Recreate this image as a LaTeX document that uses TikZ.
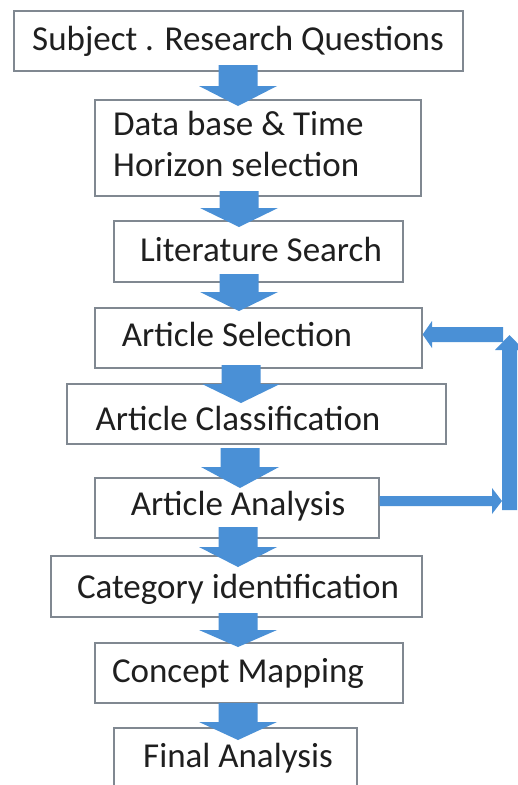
\documentclass[tikz,border=0pt]{standalone}
\usepackage{fontspec}
\setmainfont{Carlito}
\definecolor{arrblue}{RGB}{74,144,214}
\definecolor{boxline}{RGB}{128,136,145}
\newcommand\blkdown[4]{% centre x, shaft top, head base, tip
  \fill[arrblue] (#1-19.5,#2) -- (#1+19.5,#2) -- (#1+19.5,#3) -- (#1+39,#3)
    -- (#1,#4) -- (#1-39,#3) -- (#1-19.5,#3) -- cycle;}
\begin{document}
\begin{tikzpicture}[x=1pt,y=-1pt,
  box/.style={draw=boxline,line width=1.2pt,fill=white,inner sep=0pt},
  lbl/.style={font=\fontsize{35}{41}\selectfont,anchor=base,inner sep=0pt,text=black!88}]
\useasboundingbox (0,0) rectangle (518,785);
\clip (0,0) rectangle (518,785);
\fill[white] (0,0) rectangle (518,785);
% boxes
\node[box,minimum width=449pt,minimum height=60pt] (b1) at (238.5,41) {};
\node[box,minimum width=326pt,minimum height=96pt] (b2) at (258,148) {};
\node[box,minimum width=289pt,minimum height=61pt] (b3) at (258.5,251.5) {};
\node[box,minimum width=327pt,minimum height=60pt] (b4) at (258.5,338) {};
\node[box,minimum width=379pt,minimum height=60pt] (b5) at (256.5,414) {};
\node[box,minimum width=284pt,minimum height=60pt] (b6) at (237,508) {};
\node[box,minimum width=371pt,minimum height=61pt] (b7) at (236.5,586.5) {};
\node[box,minimum width=308pt,minimum height=60pt] (b8) at (249,673) {};
\node[box,minimum width=243pt,minimum height=72pt] (b9) at (235.5,764) {};
% down block arrows
\blkdown{238}{65}{86}{106}
\blkdown{239}{191}{208}{227}
\blkdown{239}{274}{292}{311}
\blkdown{241}{365}{384}{403}
\blkdown{240}{448}{467}{488}
\blkdown{238}{527}{547}{567}
\blkdown{238}{613}{630}{647}
\blkdown{238}{703}{722}{740}
% feedback loop
\coordinate (r1) at (492,501);
\coordinate (u1) at (509.5,335);
\fill[arrblue] (b6.east |- 0,496) -- (492,496) -- (492,488) -- (502,501)
  -- (492,514) -- (492,506) -- (b6.east |- 0,506) -- cycle;
\fill[arrblue] (502,510) -- (502,350) -- (495,350) -- (u1) -- (524,350)
  -- (517,350) -- (517,510) -- cycle;
\fill[arrblue] (503,327) -- (432,327) -- (432,321) -- (b4.east |- 0,334.5)
  -- (432,348) -- (432,342) -- (503,342) -- cycle;
% labels
\node[lbl] at (238,50) {Subject . Research Questions};
\node[lbl,anchor=base west] at (113,135) {Data base \& Time};
\node[lbl,anchor=base west] at (113,176) {Horizon selection};
\node[lbl] at (261,261) {Literature Search};
\node[lbl] at (237,346) {Article Selection};
\node[lbl] at (238,430) {Article Classification};
\node[lbl] at (238,515) {Article Analysis};
\node[lbl] at (238,598) {Category identification};
\node[lbl] at (238,682) {Concept Mapping};
\node[lbl] at (238,767) {Final Analysis};
\end{tikzpicture}
\end{document}
